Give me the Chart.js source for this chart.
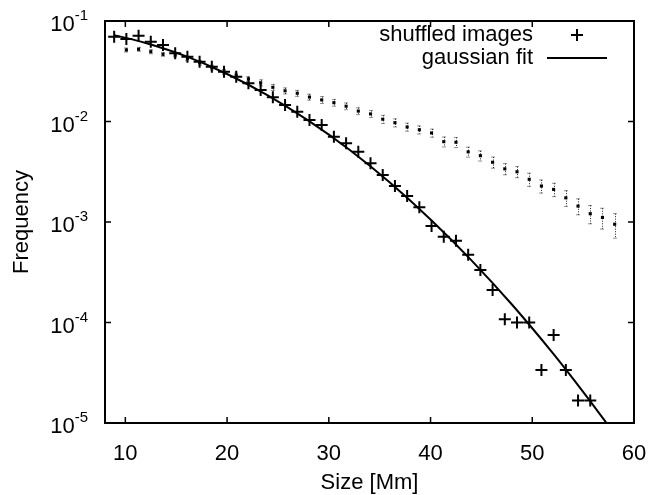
<!DOCTYPE html>
<html><head><meta charset="utf-8">
<script src="https://cdn.jsdelivr.net/npm/chart.js@4/dist/chart.umd.min.js"></script>
<style>html,body{margin:0;padding:0;background:#fff}</style>
</head><body>
<canvas id="c" width="672" height="495" style="width:672px;height:495px;display:block"></canvas>
<script>
// ---- data ----
const sizes = [8.9, 10.1, 11.3, 12.5, 13.7, 14.9, 16.1, 17.3, 18.5, 19.7, 20.9, 22.1, 23.3, 24.5,
  25.7, 26.9, 28.1, 29.3, 30.5, 31.7, 32.9, 34.1, 35.3, 36.5, 37.7, 38.9, 40.1, 41.3, 42.5, 43.7,
  44.9, 46.1, 47.3, 48.5, 49.7, 50.9, 52.1, 53.3, 54.5, 55.7, 56.9, 58.1];
const shuffledFreq = [0.0698, 0.0662, 0.0714, 0.0622, 0.0577, 0.0477, 0.0442, 0.0394, 0.0351, 0.0313,
  0.0279, 0.0240, 0.0206, 0.0174, 0.0146, 0.01252, 0.01036, 0.00923, 0.00706, 0.00607,
  0.0050, 0.00384, 0.00294, 0.00228, 0.00181, 0.00140, 0.000912, 0.000714, 0.000652, 0.000473,
  0.000333, 0.000210, 0.000108, 0.000100, 0.000100, 0.0000336, 0.000075, 0.0000336, 0.0000167, 0.0000167];
// original (unshuffled) distribution, starts at the second size bin
const originalFreq = [0.0515, 0.0523, 0.0495, 0.0466, 0.0460, 0.0425, 0.0385, 0.0345, 0.0311, 0.0287,
  0.0265, 0.0243, 0.0219, 0.0202, 0.0191, 0.0175, 0.0164, 0.0154, 0.0142, 0.0127,
  0.0119, 0.01054, 0.00973, 0.00882, 0.00828, 0.00769, 0.00630, 0.00622, 0.00499, 0.00457,
  0.00393, 0.00338, 0.00316, 0.00266, 0.00228, 0.00211, 0.00174, 0.00144, 0.00121, 0.00111, 0.00095];
const originalErr = [0.0024, 0.0024, 0.0023, 0.0021, 0.0020, 0.0023, 0.0021, 0.0019, 0.0018, 0.0016,
  0.0015, 0.0017, 0.0015, 0.0014, 0.0013, 0.0012, 0.0013, 0.0012, 0.0011, 0.0010,
  0.00095, 0.00097, 0.00090, 0.00081, 0.00076, 0.00071, 0.00072, 0.00072, 0.00057, 0.00053,
  0.00050, 0.00043, 0.00040, 0.00040, 0.00034, 0.00032, 0.00031, 0.00026, 0.00025, 0.00026, 0.00026];
const fitSize = [8.9, 12, 16, 20, 24, 28, 32, 36, 40, 44, 48, 52, 55, 57.3];
const fitFreq = [0.0724, 0.0604, 0.0444, 0.0297, 0.0182, 0.0102, 0.00526, 0.00247, 0.00106,
  0.000418, 0.000151, 0.0000498, 0.0000204, 0.0000100];
const xTicks = [10, 20, 30, 40, 50, 60];
const yTicks = [1e-1, 1e-2, 1e-3, 1e-4, 1e-5];
const yTickBase = '10';
const yTickExp = ['-1', '-2', '-3', '-4', '-5'];
const legendLabels = ['shuffled images', 'gaussian fit'];
const xTitle = 'Size [Mm]';
const yTitle = 'Frequency';

const FONT = 'Liberation Sans, Arial, Helvetica, sans-serif';
const toPts = (xs, ys) => ys.map((v, i) => ({x: xs[i], y: v}));
const origSizes = sizes.slice(1, 1 + originalFreq.length);

const errorBars = {
  id: 'errorBars',
  beforeDatasetsDraw(chart) {
    const {ctx, scales: {x, y}, chartArea: a} = chart;
    ctx.save();
    ctx.beginPath(); ctx.rect(a.left, a.top, a.right - a.left, a.bottom - a.top); ctx.clip();
    ctx.strokeStyle = '#222';
    ctx.lineWidth = 1;
    originalFreq.forEach((v, i) => {
      const px = Math.round(x.getPixelForValue(origSizes[i])) + 0.5;
      const y1 = y.getPixelForValue(v + originalErr[i]);
      const y2 = y.getPixelForValue(v - originalErr[i]);
      ctx.setLineDash([1, 1.5]);
      ctx.beginPath(); ctx.moveTo(px, y1); ctx.lineTo(px, y2); ctx.stroke();
      ctx.setLineDash([1, 1]);
      ctx.beginPath();
      ctx.moveTo(px - 2, y1); ctx.lineTo(px + 2, y1);
      ctx.moveTo(px - 2, y2); ctx.lineTo(px + 2, y2);
      ctx.stroke();
    });
    ctx.restore();
  }
};

const frame = {
  id: 'frame',
  afterDraw(chart) {
    const {ctx, scales: {x, y}, chartArea: a} = chart;
    ctx.save();
    ctx.strokeStyle = '#000';
    ctx.lineWidth = 2;
    ctx.strokeRect(a.left, a.top, a.right - a.left, a.bottom - a.top);
    ctx.lineWidth = 1.5;
    ctx.beginPath();
    xTicks.forEach(v => {
      const px = x.getPixelForValue(v);
      ctx.moveTo(px, a.bottom); ctx.lineTo(px, a.bottom - 6);
      ctx.moveTo(px, a.top); ctx.lineTo(px, a.top + 6);
    });
    yTicks.forEach(v => {
      const py = y.getPixelForValue(v);
      ctx.moveTo(a.left, py); ctx.lineTo(a.left + 6, py);
      ctx.moveTo(a.right, py); ctx.lineTo(a.right - 6, py);
    });
    ctx.stroke();
    // y tick labels with superscript exponent
    ctx.fillStyle = '#000';
    ctx.textBaseline = 'middle';
    ctx.textAlign = 'right';
    const rightEdge = a.left - 17;
    yTicks.forEach((v, i) => {
      const py = y.getPixelForValue(v);
      ctx.font = '15px ' + FONT;
      const w = ctx.measureText(yTickExp[i]).width;
      ctx.fillText(yTickExp[i], rightEdge, py - 5);
      ctx.font = '22px ' + FONT;
      ctx.fillText(yTickBase, rightEdge - w, py + 4);
    });
    // key
    ctx.font = '22px ' + FONT;
    const ky = [35, 58];
    ctx.fillText(legendLabels[0], 533, ky[0]);
    ctx.fillText(legendLabels[1], 533, ky[1]);
    ctx.lineWidth = 2;
    ctx.beginPath();
    ctx.moveTo(571, ky[0]); ctx.lineTo(583, ky[0]);
    ctx.moveTo(577, ky[0] - 6); ctx.lineTo(577, ky[0] + 6);
    ctx.moveTo(547, ky[1]); ctx.lineTo(607, ky[1]);
    ctx.stroke();
    ctx.restore();
  }
};

new Chart(document.getElementById('c'), {
  type: 'scatter',
  data: {
    datasets: [
      {label: legendLabels[0], data: toPts(sizes, shuffledFreq), pointStyle: 'cross', pointRadius: 6,
       borderColor: '#000', backgroundColor: '#000', pointBorderWidth: 2, showLine: false, order: 1},
      {label: legendLabels[1], data: toPts(fitSize, fitFreq), showLine: true, pointRadius: 0,
       borderColor: '#000', borderWidth: 2, cubicInterpolationMode: 'monotone', order: 2},
      {label: 'original', data: toPts(origSizes, originalFreq), pointStyle: 'rect', pointRadius: 2.2,
       borderColor: '#000', backgroundColor: '#000', pointBorderWidth: 0, showLine: false, order: 3}
    ]
  },
  options: {
    responsive: false, animation: false, devicePixelRatio: 1,
    layout: {padding: {left: 0, right: 38, top: 21, bottom: 0}},
    plugins: {legend: {display: false}, tooltip: {enabled: false}},
    scales: {
      x: {
        type: 'linear', min: 8, max: 60,
        grid: {display: false}, border: {display: false},
        afterBuildTicks: s => { s.ticks = xTicks.map(v => ({value: v})); },
        afterFit: s => { s.height = 72; },
        ticks: {color: '#000', font: {family: FONT, size: 22}, padding: 10, maxRotation: 0, autoSkip: false},
        title: {display: true, text: xTitle, color: '#000', font: {family: FONT, size: 22, lineHeight: 1.1},
                padding: {top: 0, bottom: 0}}
      },
      y: {
        type: 'logarithmic', min: 1e-5, max: 1e-1,
        grid: {display: false}, border: {display: false},
        afterBuildTicks: s => { s.ticks = yTicks.map(v => ({value: v})); },
        afterFit: s => { s.width = 105; },
        ticks: {display: false},
        title: {display: true, text: yTitle, color: '#000', font: {family: FONT, size: 22, lineHeight: 1.1},
                padding: {top: 9.5, bottom: 0}}
      }
    }
  },
  plugins: [errorBars, frame]
});
</script>
</body></html>
